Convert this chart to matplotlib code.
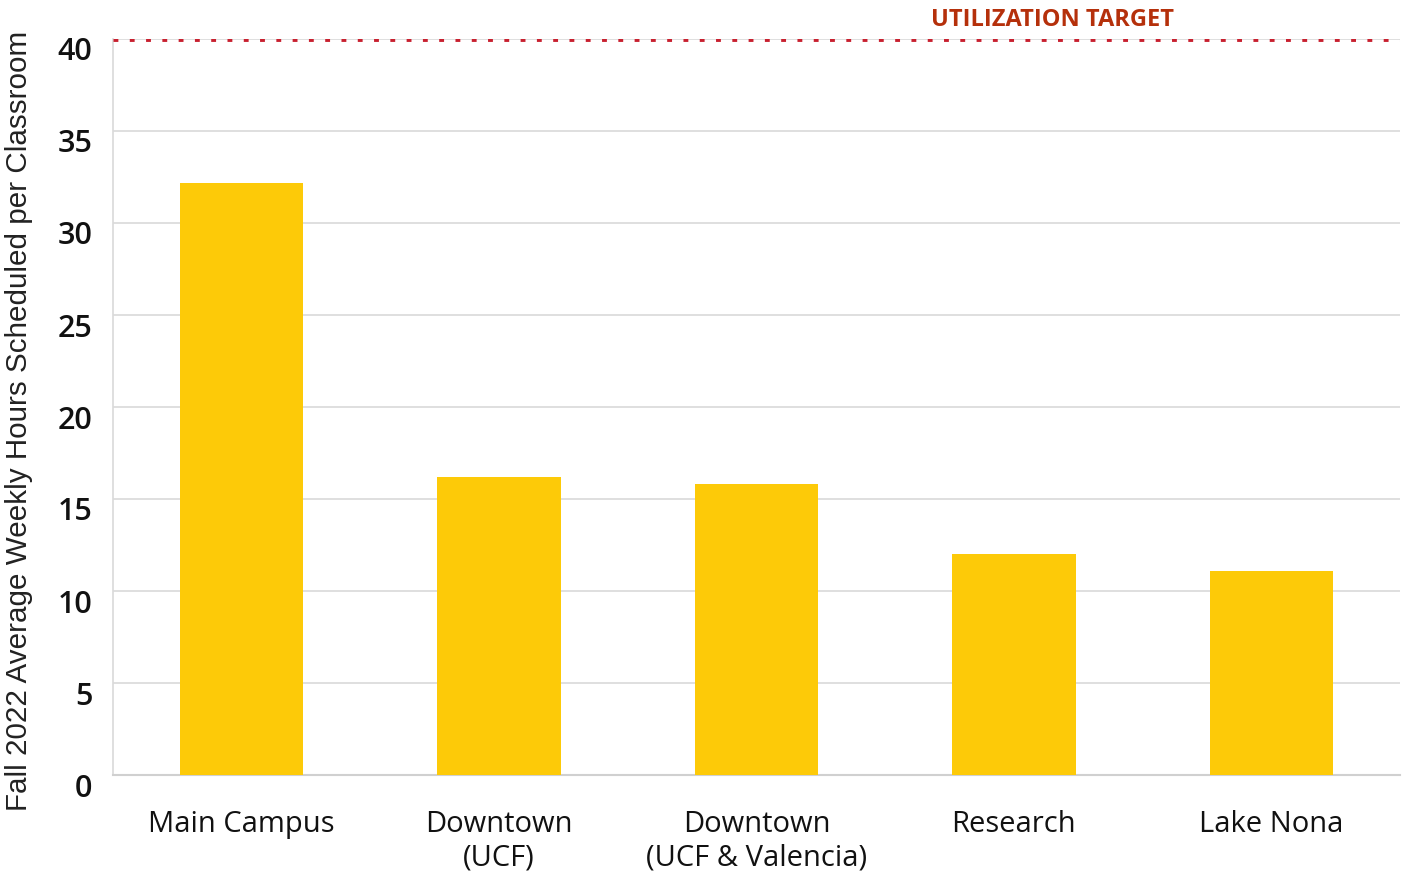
import matplotlib
matplotlib.use("Agg")
import matplotlib.pyplot as plt
from matplotlib.transforms import ScaledTranslation
import numpy as np

plt.rcParams["font.family"] = ["Open Sans", "DejaVu Sans"]

campuses = ["Main Campus", "Downtown\n(UCF)", "Downtown\n(UCF & Valencia)", "Research", "Lake Nona"]
hours = [32.2, 16.2, 15.8, 12.0, 11.1]
target = 40
yticks = [0, 5, 10, 15, 20, 25, 30, 35, 40]

fig = plt.figure(figsize=(14.04, 8.72), dpi=100)
ax = fig.add_axes([113 / 1404, 1 - 775 / 872, 1287 / 1404, 736 / 872])

x = np.arange(len(campuses))
ax.bar(x, hours, width=0.48, color="#FDCA08", zorder=3)

ax.axhline(target, color="#C8202F", linestyle=(0, (1, 2.35)), linewidth=3.5, zorder=4)
ax.text(3.15, target + 0.4, "UTILIZATION TARGET", color="#B5300B", fontsize=17,
        fontweight="bold", ha="center", va="bottom")

ax.set_xlim(-0.5, 4.5)
ax.set_ylim(0, 40)
ax.set_yticks(yticks)
ax.set_yticklabels([str(t) for t in yticks], fontsize=22, fontweight="semibold")
ax.set_xticks(x)
ax.set_xticklabels(campuses, fontsize=21, linespacing=1.2)
ax.tick_params(axis="both", length=0, colors="#111111")
ax.tick_params(axis="x", pad=25)
ax.tick_params(axis="y", pad=15)
for lab in ax.get_yticklabels():
    lab.set_transform(lab.get_transform() + ScaledTranslation(0, -0.1, fig.dpi_scale_trans))

ax.grid(True, axis="y", color="#D9D9D9", linewidth=1.2, zorder=0)
for s in ["top", "right"]:
    ax.spines[s].set_visible(False)
ax.spines["left"].set_color("#D9D9D9")
ax.spines["bottom"].set_color("#D0D0D0")
ax.spines["left"].set_linewidth(1.2)
ax.spines["bottom"].set_linewidth(1.5)

fig.text(19 / 1404, 1 - 421 / 872, "Fall 2022 Average Weekly Hours Scheduled per Classroom",
         rotation=90, fontsize=21.3, color="#222222", ha="center", va="center",
         family=["Liberation Sans", "DejaVu Sans"])

fig.savefig("out.png", dpi=100)
